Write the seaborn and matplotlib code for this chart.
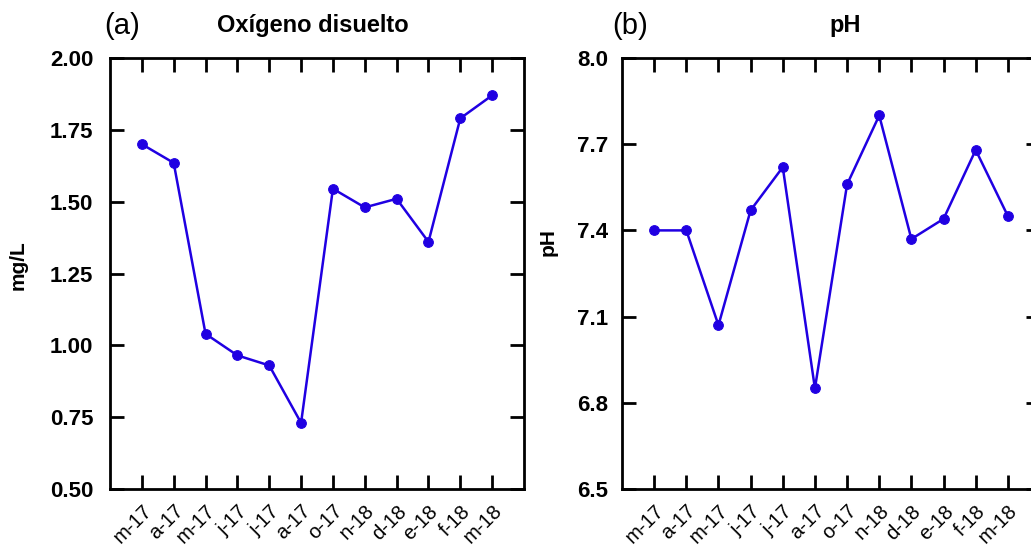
import matplotlib
matplotlib.use("Agg")
import matplotlib.pyplot as plt
import seaborn as sns
import pandas as pd

months = ['m-17', 'a-17', 'm-17', 'j-17', 'j-17', 'a-17', 'o-17', 'n-18', 'd-18', 'e-18', 'f-18', 'm-18']
oxigeno = [1.70, 1.635, 1.04, 0.965, 0.93, 0.73, 1.545, 1.48, 1.51, 1.36, 1.79, 1.87]
ph = [7.40, 7.40, 7.07, 7.47, 7.62, 6.85, 7.56, 7.80, 7.37, 7.44, 7.68, 7.45]
oxi_ticks = [0.50, 0.75, 1.00, 1.25, 1.50, 1.75, 2.00]
ph_ticks = [6.5, 6.8, 7.1, 7.4, 7.7, 8.0]

sns.set_style("ticks")
plt.rcParams['font.family'] = ['Liberation Sans', 'DejaVu Sans']
for k in ['text.color', 'axes.labelcolor', 'xtick.color', 'ytick.color', 'axes.edgecolor']:
    plt.rcParams[k] = 'black'

color = '#2000e2'
fig = plt.figure(figsize=(10.31, 5.56), dpi=100)
ax1 = fig.add_axes([110 / 1031, 67 / 556, 414 / 1031, 431 / 556])
ax2 = fig.add_axes([622 / 1031, 67 / 556, 418 / 1031, 431 / 556])

df = pd.DataFrame({'idx': range(len(months)), 'oxi': oxigeno, 'ph': ph})


def style_axis(ax, yticks, fmt, ylabel, label_xy, title, title_x, letter, letter_x, ypad):
    ax.set_xlim(-1, len(months))
    ax.set_ylim(yticks[0], yticks[-1])
    ax.set_yticks(yticks)
    ax.set_yticklabels([fmt.format(v) for v in yticks], fontsize=16, fontweight='bold')
    ax.set_xticks(range(len(months)))
    ax.set_xticklabels(months, rotation=45, ha='right', rotation_mode='anchor', fontsize=14.5)
    ax.tick_params(direction='in', length=10, width=2, top=True, right=True)
    ax.tick_params(axis='y', pad=ypad)
    ax.tick_params(axis='x', pad=9)
    for s in ax.spines.values():
        s.set_linewidth(2)
    ax.set_xlabel('')
    ax.set_ylabel(ylabel, fontsize=15, fontweight='bold')
    ax.yaxis.set_label_coords(*label_xy)
    ax.text(title_x, 1.075, title, transform=ax.transAxes, fontsize=17,
            fontweight='bold', ha='center', va='center')
    ax.text(letter_x, 1.075, letter, transform=ax.transAxes, fontsize=21,
            ha='left', va='center')


sns.lineplot(data=df, x='idx', y='oxi', ax=ax1, color=color, marker='o',
             markersize=7, linewidth=1.8, markeredgecolor=color)
style_axis(ax1, oxi_ticks, '{:.2f}', 'mg/L', (-0.2, 0.52),
           'Oxígeno disuelto', 0.49, '(a)', -0.015, 12)

sns.lineplot(data=df, x='idx', y='ph', ax=ax2, color=color, marker='o',
             markersize=7, linewidth=1.8, markeredgecolor=color)
style_axis(ax2, ph_ticks, '{:.1f}', 'pH', (-0.153, 0.573),
           'pH', 0.533, '(b)', -0.024, 10)

fig.savefig('out.png', dpi=100)
